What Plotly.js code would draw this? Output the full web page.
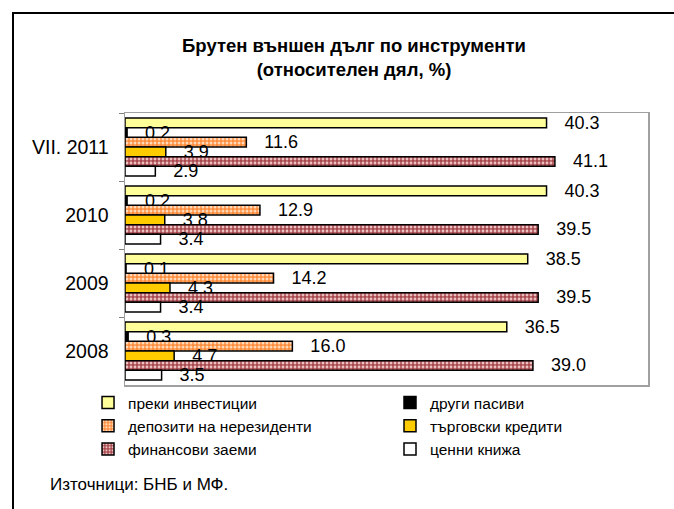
<!DOCTYPE html>
<html>
<head>
<meta charset="utf-8">
<script src="https://cdn.plot.ly/plotly-3.0.1.min.js"></script>
<style>
  html, body { margin: 0; padding: 0; background: #fff; }
  #wrap { position: relative; width: 674px; height: 509px; overflow: hidden; }
  #chart { width: 674px; height: 509px; }
  #frame { position: absolute; left: 12px; top: 12px; width: 800px; height: 700px;
           border-left: 2px solid #000; border-top: 2px solid #000; pointer-events: none; }
</style>
</head>
<body>
<div id="wrap">
  <div id="chart"></div>
  <div id="frame"></div>
</div>
<script>
// categories, top to bottom as in the picture
const categories = ['VII. 2011', '2010', '2009', '2008'];
const seriesNames = ['преки инвестиции', 'други пасиви', 'депозити на нерезиденти',
                     'търговски кредити', 'финансови заеми', 'ценни книжа'];
const directInvestment = [40.3, 40.3, 38.5, 36.5];
const otherLiabilities = [0.2, 0.2, 0.1, 0.3];
const nonresidentDeposits = [11.6, 12.9, 14.2, 16.0];
const tradeCredits = [3.9, 3.8, 4.3, 4.7];
const financialLoans = [41.1, 39.5, 39.5, 39.0];
const securities = [2.9, 3.4, 3.4, 3.5];
const titleText = 'Брутен външен дълг по инструменти<br>(относителен дял, %)';
const sourceText = 'Източници: БНБ и МФ.';

const values = [directInvestment, otherLiabilities, nonresidentDeposits,
                tradeCredits, financialLoans, securities];
// legend column for each series (left column / right column)
const legendColumn = ['legend', 'legend2', 'legend', 'legend2', 'legend', 'legend2'];
const markers = [
  {color: '#FFFF99'},
  {color: '#000000'},
  {color: '#FF9440', pattern: {shape: '.', fgcolor: '#FFD9B8', bgcolor: '#FF8C3A', size: 4, solidity: 0.45}},
  {color: '#FFCC00'},
  {color: '#B05050', pattern: {shape: '.', fgcolor: '#EBC0C0', bgcolor: '#A8484E', size: 4, solidity: 0.4}},
  {color: '#FFFFFF'}
];

const FONT = 'Liberation Sans, Arial, sans-serif';

const traces = values.map((v, i) => ({
  type: 'bar',
  orientation: 'h',
  name: seriesNames[i],
  legend: legendColumn[i],
  y: categories,
  x: v,
  marker: Object.assign({line: {color: '#000', width: 1.5}}, markers[i]),
  texttemplate: '   %{x:.1f}',
  textposition: 'outside',
  constraintext: 'none',
  cliponaxis: false,
  textfont: {family: FONT, size: 18, color: '#000'},
  hoverinfo: 'skip'
}));

const legendCommon = {
  orientation: 'v',
  traceorder: 'normal',
  xanchor: 'left',
  y: -0.0037, yanchor: 'top',
  font: {size: 15.5, family: FONT},
  itemwidth: 30,
  tracegroupgap: 0,
  bgcolor: 'rgba(0,0,0,0)'
};

const layout = {
  width: 674, height: 509,
  margin: {l: 125, r: 26, t: 113, b: 124},
  paper_bgcolor: '#fff', plot_bgcolor: '#fff',
  font: {family: FONT, color: '#000'},
  title: {
    text: titleText,
    font: {family: FONT, size: 18.5, color: '#000', weight: 'bold'},
    x: 354 / 674, xanchor: 'center', xref: 'container',
    y: 1 - 52 / 509, yanchor: 'top', yref: 'container'
  },
  barmode: 'group',
  bargap: 0.15,
  bargroupgap: 0,
  showlegend: true,
  legend: Object.assign({}, legendCommon, {x: -0.0707}),
  legend2: Object.assign({}, legendCommon, {x: 0.5067}),
  xaxis: {
    range: [0, 50],
    showticklabels: false,
    showgrid: false,
    zeroline: false,
    ticks: '',
    showline: true, mirror: true, linecolor: '#A0A0A0', linewidth: 1.5
  },
  yaxis: {
    type: 'category',
    categoryorder: 'array',
    categoryarray: categories,
    autorange: 'reversed',
    showgrid: false,
    ticks: 'outside', ticklen: 5, tickcolor: '#808080', tickwidth: 1,
    tickson: 'boundaries',
    showline: true, mirror: true, linecolor: '#A0A0A0', linewidth: 1.5,
    tickfont: {size: 19.5, family: FONT, color: '#000'},
    ticklabelstandoff: 11
  },
  annotations: [{
    text: sourceText,
    xref: 'paper', yref: 'paper',
    x: (48 - 125) / 523, y: (385 - 484) / 272,
    xanchor: 'left', yanchor: 'middle',
    showarrow: false,
    font: {size: 17, family: FONT, color: '#000'}
  }]
};

Plotly.newPlot('chart', traces, layout, {displayModeBar: false, staticPlot: true});
</script>
</body>
</html>
